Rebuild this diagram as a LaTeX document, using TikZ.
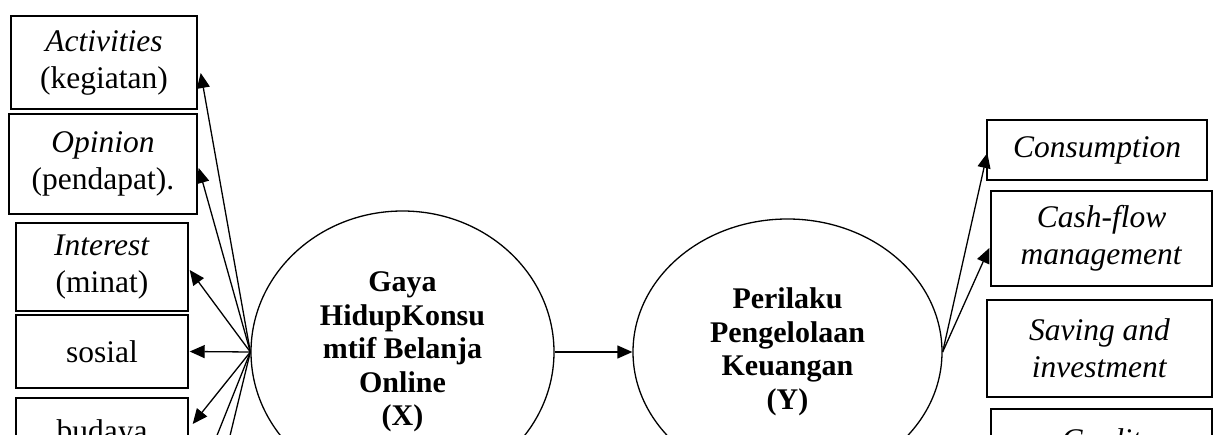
\documentclass[tikz,border=0pt]{standalone}
\usepackage{fontspec}
\setmainfont{Liberation Serif}
\usetikzlibrary{shapes.geometric,arrows.meta}
\begin{document}
\begin{tikzpicture}[x=1pt,y=-1pt,
  box/.style={draw,line width=1.4pt,inner sep=0pt,align=center,font=\fontsize{31.5}{37}\selectfont},
  ell/.style={draw,ellipse,line width=1.3pt,inner sep=0pt,align=center,font=\fontsize{30}{33.5}\selectfont\bfseries},
  arr/.style={line width=1.3pt,-{Triangle[length=15pt,width=13pt]}},
  ln/.style={line width=1.3pt}]
\useasboundingbox (0,0) rectangle (1213,435);
\clip (0,0) rectangle (1213,435);
% left indicator boxes
\node[box,minimum width=186pt,minimum height=93pt] (act) at (104,62.5) {\textit{Activities}\\(kegiatan)};
\node[box,minimum width=188pt,minimum height=100pt] (opi) at (103,164) {\textit{Opinion}\\(pendapat).};
\node[box,minimum width=172pt,minimum height=88pt] (int) at (102,267) {\textit{Interest}\\(minat)};
\node[box,minimum width=172pt,minimum height=73pt] (sos) at (102,351.5) {sosial};
\node[box,minimum width=172pt,minimum height=72pt] (bud) at (102,434) {budaya};
% right indicator boxes
\node[box,minimum width=220pt,minimum height=60pt] (con) at (1097,150) {\textit{Consumption}};
\node[box,minimum width=221pt,minimum height=95pt] (cash) at (1101.5,238.5) {\textit{Cash-flow}\\\textit{management}};
\node[box,minimum width=225pt,minimum height=97pt] (sav) at (1099.5,348.5) {\textit{Saving and}\\\textit{investment}};
\node[box,minimum width=221pt,minimum height=62pt] (cre) at (1101.5,440) {\textit{Credit}};
% latent variables
\node[ell,minimum width=303pt,minimum height=282pt] (X) at (402.5,352) {Gaya\\HidupKonsu\\mtif Belanja\\Online\\(X)};
\node[ell,minimum width=309pt,minimum height=266pt] (Y) at (787.5,352) {Perilaku\\Pengelolaan\\Keuangan\\(Y)};
% connectors
\draw[arr] (X.west) -- ([xshift=3pt,yshift=-10.5pt]act.east);
\draw[arr] (X.west) -- ([xshift=1pt,yshift=-4pt]opi.east);
\draw[arr] (X.west) -- ([xshift=1pt,yshift=-3pt]int.east);
\draw[arr] (X.west) -- ([xshift=1pt]sos.east);
\draw[arr] (X.west) -- ([xshift=4pt,yshift=10pt]bud.east);
\coordinate (h1) at (184,518);
\coordinate (h2) at (210,518);
\draw[ln] (X.west) -- (h1);
\draw[ln] (X.west) -- (h2);
\draw[arr] (X.east) -- (Y.west);
\draw[arr] (Y.east) -- ([xshift=1pt,yshift=-3pt]con.west);
\draw[arr] (Y.east) -- ([xshift=-1pt,yshift=-9.5pt]cash.west);
\end{tikzpicture}
\end{document}
